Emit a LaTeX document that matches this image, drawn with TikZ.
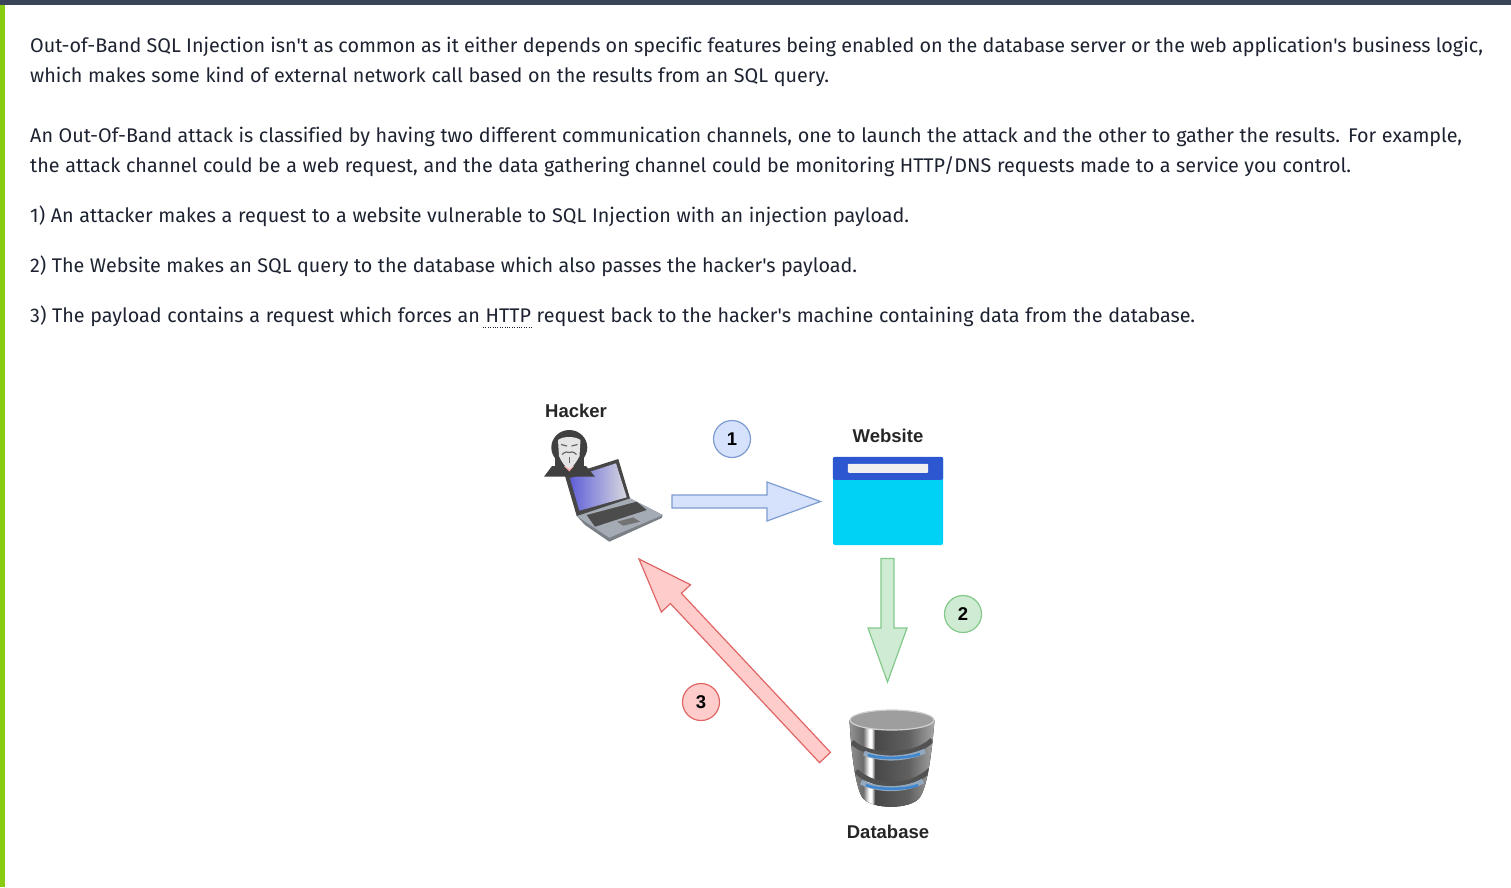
\documentclass[tikz,border=0pt]{standalone}
\usepackage{fontspec}
\newfontfamily\bodyfont[Ligatures=NoCommon]{Fira Sans}
\newfontfamily\labelfont{Liberation Sans}
\usetikzlibrary{calc}
\definecolor{pagetext}{HTML}{1C2230}
\definecolor{topbar}{HTML}{3A4459}
\definecolor{sidebar}{HTML}{88CC11}
\definecolor{bluefill}{HTML}{D6E2FB}
\definecolor{blueline}{HTML}{7C9BD0}
\definecolor{greenfill}{HTML}{D0EBD3}
\definecolor{greenline}{HTML}{82C98A}
\definecolor{redfill}{HTML}{FFCCCC}
\definecolor{redline}{HTML}{E06666}
\definecolor{webbody}{HTML}{00D2F6}
\definecolor{webhead}{HTML}{2D57D0}
\definecolor{screenlow}{HTML}{6060D8}
\definecolor{screenmid}{HTML}{2C2C66}
\definecolor{screenhigh}{HTML}{D8D8E0}
\definecolor{laptopbase}{HTML}{A4ABB4}
\definecolor{dbglow}{HTML}{3F86D0}
\pgfdeclarehorizontalshading{dbshade}{100bp}{color(0bp)=(black!42); color(25bp)=(black!42); color(33bp)=(black!58); color(36.5bp)=(white); color(38bp)=(white); color(40bp)=(black!72); color(60bp)=(black!62); color(75bp)=(black!35); color(100bp)=(black!35)}
\tikzset{
  bodyline/.style={anchor=base west,inner sep=0pt,text=pagetext,font=\bodyfont\fontsize{19.75}{30}\selectfont},
  caption/.style={inner sep=0pt,font=\labelfont\bfseries\fontsize{18.5}{20}\selectfont,text=black!85},
  badge/.style={circle,draw,line width=1.2pt,minimum size=37pt,inner sep=0pt,font=\labelfont\bfseries\fontsize{18.5}{20}\selectfont},
  bluebadge/.style={badge,fill=bluefill,draw=blueline},
  greenbadge/.style={badge,fill=greenfill,draw=greenline},
  redbadge/.style={badge,fill=redfill,draw=redline},
  bluearrow/.style={draw=blueline,fill=bluefill,line width=1.2pt},
  greenarrow/.style={draw=greenline,fill=greenfill,line width=1.2pt},
  redarrow/.style={draw=redline,fill=redfill,line width=1.2pt}
}
\newcommand{\blockarrow}[6]{
  \coordinate (#2head) at ($(#3)!#5!(#2)$);
  \draw [#1] ($(#2)!#4!90:(#3)$) -- ($(#2head)!#4!90:(#3)$) -- ($(#2head)!#6!90:(#3)$) -- (#3)
    -- ($(#2head)!#6!-90:(#3)$) -- ($(#2head)!#4!-90:(#3)$) -- ($(#2)!#4!-90:(#3)$) -- cycle;
}
\newcommand{\dbbody}{(849.5,720) .. controls (851,750) and (855,785) .. (862,797) .. controls (870,810) and (912,810) .. (920,797) .. controls (928,785) and (932,750) .. (934.5,720) -- cycle}
\begin{document}
\begin{tikzpicture}[x=1pt,y=-1pt]
      \useasboundingbox (0,0) rectangle (1511,887);
      \fill [sidebar] (0,0) rectangle (5,887);
      \fill [topbar] (0,0) rectangle (1511,4.5);

      \node [bodyline] (line1) at (30,52) {\makebox[1453pt][s]{Out-of-Band SQL Injection isn't as common as it either depends on specific features being enabled on the database server or the web application's business logic,}};
      \node [bodyline] (line2) at (30,82) {\makebox[799pt][s]{which makes some kind of external network call based on the results from an SQL query.}};
      \node [bodyline] (line3) at (30,142) {\makebox[1432pt][s]{An Out-Of-Band attack is classified by having two different communication channels, one to launch the attack and the other to gather the results. For example,}};
      \node [bodyline] (line4) at (30,172) {\makebox[1321pt][s]{the attack channel could be a web request, and the data gathering channel could be monitoring HTTP/DNS requests made to a service you control.}};
      \node [bodyline] (line5) at (30,222) {\makebox[879pt][s]{1) An attacker makes a request to a website vulnerable to SQL Injection with an injection payload.}};
      \node [bodyline] (line6) at (30,272) {\makebox[827pt][s]{2) The Website makes an SQL query to the database which also passes the hacker's payload.}};
      \node [bodyline] (line7) at (30,322) {\makebox[1165pt][s]{3) The payload contains a request which forces an HTTP request back to the hacker's machine containing data from the database.}};
      \draw [dotted,pagetext] (483,327) -- (532,327);

      \node [caption] (hackerlabel) at (576,411) {Hacker};
      \node [caption] (websitelabel) at (888,436) {Website};
      \node [caption] (databaselabel) at (888,832) {Database};

      \fill [laptopbase!75!black] (576.7,516) -- (630,498.3) -- (662.7,515) -- (661.7,518) -- (609.3,541.7) -- (585,525) -- cycle;
      \fill [laptopbase] (576.7,516) -- (630,498.3) -- (662.7,515) -- (609.3,537.7) -- cycle;
      \fill [black!70] (586.7,515) -- (636.7,501.7) -- (646.7,510) -- (595,526.7) -- cycle;
      \fill [black!55] (617.3,521.7) -- (633.3,517.3) -- (640,521.7) -- (623.3,525.7) -- cycle;
      \fill [black!72] (565,476) -- (618.3,459) -- (630,498.3) -- (576.7,516) -- cycle;
      \shade [left color=screenlow,middle color=screenmid,right color=screenhigh] (570,478.3) -- (616,463.3) -- (626.7,497.3) -- (579.3,510.7) -- cycle;

      \fill [black!75] (544,476.7) -- (552,466) -- (586,466) -- (595,476.7) -- cycle;
      \fill [black!75] (569.3,447.5) ellipse [x radius=18, y radius=17.5];
      \fill [black!75] (555,455) rectangle (584,468);
      \fill [red!35] (564,466) -- (574,466) -- (569.3,471.5) -- cycle;
      \fill [black!10] (558,440) .. controls (563,436) and (575,436) .. (580.5,440) -- (579.5,456) .. controls (576,463) and (572,468) .. (569.3,469) .. controls (566,468) and (562,463) .. (559,456) -- cycle;
      \draw [black!60,line width=1.2pt] (561,444.5) -- (567,446) (577.5,444.5) -- (571.5,446);
      \draw [black!60,line width=1.2pt] (562,454.5) .. controls (566,451) and (567,452) .. (569.3,452.5) .. controls (571,452) and (573,451) .. (576.5,454.5);
      \fill [black!60] (568.5,457) rectangle (570.1,463);

      \node [fill=webbody,minimum width=110pt,minimum height=88pt,inner sep=0pt,rounded corners=2pt] (webbox) at (888,501) {};
      \fill [webhead,rounded corners=2pt] (webbox.north west) rectangle ($(webbox.north east)+(0,23)$);
      \fill [white!94!black,rounded corners=1pt] ($(webbox.north west)+(15,7)$) rectangle ($(webbox.north east)+(-15,16)$);

      \fill [shading=dbshade] \dbbody;
      \begin{scope}
        \clip \dbbody;
        \draw [black!68,line width=5pt] (852,742) .. controls (868,758) and (915,758) .. (932,740);
        \draw [black!68,line width=5pt] (856,771) .. controls (875,789) and (910,789) .. (930,770);
        \draw [dbglow!60!black!50,line width=5pt] (864,753) .. controls (880,760) and (905,760) .. (925,751);
        \draw [dbglow!60!black!50,line width=5pt] (861,782) .. controls (878,791) and (905,791) .. (923,781);
        \draw [dbglow,line width=2.5pt] (868,755) .. controls (880,759) and (905,759) .. (920,754);
        \draw [dbglow,line width=2.5pt] (866,785) .. controls (878,790) and (905,790) .. (918,785);
      \end{scope}
      \fill [black!38,draw=black!18,line width=1.2pt] (892,720) ellipse [x radius=42, y radius=10];

      \coordinate (attackstart) at (672,501.5);
      \coordinate (attackend) at (820.5,501.5);
      \coordinate (querystart) at (887.5,558.5);
      \coordinate (queryend) at (887.5,682);
      \coordinate (exfilstart) at (825,757.5);
      \coordinate (exfilend) at (639,559);
      \blockarrow{bluearrow}{attackstart}{attackend}{6.5pt}{53.5pt}{19.5pt}
      \blockarrow{greenarrow}{querystart}{queryend}{6.5pt}{54pt}{19.5pt}
      \blockarrow{redarrow}{exfilstart}{exfilend}{7.5pt}{54pt}{20pt}

      \node [bluebadge] (stepone) at (732,439) {1};
      \node [greenbadge] (steptwo) at (963,614) {2};
      \node [redbadge] (stepthree) at (701,702) {3};
    \end{tikzpicture}
\end{document}
